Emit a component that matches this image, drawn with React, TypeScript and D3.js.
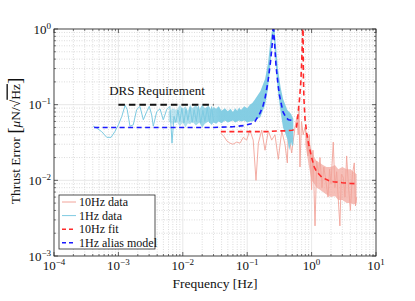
import * as d3 from 'd3';

// axis ticks
const xExps = [-4, -3, -2, -1, 0, 1];
const yExps = [-3, -2, -1, 0];

// 1Hz data: low-frequency trace
const oneHzF = [4.07e-4, 4.6e-4, 5.5e-4, 6.6e-4, 7.7e-4, 8.8e-4, 1.0e-3, 1.13e-3, 1.27e-3, 1.37e-3, 1.51e-3, 1.7e-3, 1.92e-3, 2.16e-3, 2.44e-3, 2.75e-3, 3.02e-3, 3.29e-3, 3.48e-3, 3.94e-3, 4.43e-3, 4.98e-3, 5.62e-3, 6.3e-3, 6.8e-3, 7.3e-3, 7.8e-3, 8.4e-3, 9.0e-3, 9.7e-3, 1.04e-2, 1.12e-2, 1.2e-2, 1.3e-2, 1.4e-2, 1.5e-2, 1.62e-2, 1.75e-2, 1.9e-2, 2.05e-2, 2.2e-2, 2.4e-2, 2.6e-2, 2.8e-2, 3.0e-2];
const oneHzV = [0.052, 0.049, 0.044, 0.037, 0.037, 0.044, 0.054, 0.07, 0.098, 0.086, 0.052, 0.054, 0.086, 0.095, 0.063, 0.081, 0.095, 0.073, 0.052, 0.081, 0.088, 0.063, 0.086, 0.095, 0.031, 0.07, 0.058, 0.085, 0.06, 0.09, 0.057, 0.088, 0.062, 0.092, 0.058, 0.086, 0.06, 0.095, 0.057, 0.084, 0.06, 0.09, 0.058, 0.094, 0.06];

// 1Hz data: dense band envelope
const oneHzBandF = [0.006, 0.007, 0.008, 0.009, 0.01, 0.011, 0.012, 0.013, 0.014, 0.016, 0.018, 0.02, 0.022, 0.025, 0.028, 0.03, 0.033, 0.036, 0.04, 0.045, 0.05, 0.055, 0.06, 0.065, 0.07, 0.075, 0.08, 0.09, 0.1, 0.11, 0.12, 0.13, 0.16, 0.19, 0.21, 0.23, 0.245, 0.255, 0.265, 0.28, 0.3, 0.33, 0.36, 0.39, 0.42, 0.45, 0.48, 0.5, 0.52];
const oneHzBandLo = [0.06, 0.055, 0.06, 0.052, 0.058, 0.05, 0.057, 0.055, 0.06, 0.053, 0.058, 0.05, 0.056, 0.06, 0.054, 0.058, 0.056, 0.06, 0.057, 0.062, 0.058, 0.06, 0.062, 0.058, 0.06, 0.062, 0.06, 0.062, 0.058, 0.06, 0.06, 0.062, 0.068, 0.1, 0.16, 0.35, 0.7, 0.9, 0.6, 0.3, 0.15, 0.08, 0.05, 0.042, 0.035, 0.025, 0.032, 0.028, 0.03];
const oneHzBandHi = [0.08, 0.09, 0.085, 0.1, 0.088, 0.095, 0.083, 0.1, 0.09, 0.098, 0.086, 0.1, 0.09, 0.097, 0.085, 0.093, 0.088, 0.095, 0.083, 0.09, 0.082, 0.088, 0.08, 0.09, 0.083, 0.092, 0.085, 0.095, 0.09, 0.1, 0.105, 0.115, 0.15, 0.22, 0.35, 0.7, 1.0, 1.0, 1.0, 0.6, 0.3, 0.17, 0.12, 0.1, 0.085, 0.08, 0.075, 0.07, 0.065];

// 10Hz data
const tenHzF = [0.039, 0.0436, 0.0486, 0.054, 0.06, 0.0687, 0.0773, 0.087, 0.098, 0.11, 0.124, 0.137, 0.149, 0.168, 0.189, 0.213, 0.24, 0.27, 0.304, 0.344, 0.386, 0.42, 0.435, 0.49, 0.552, 0.593, 0.62, 0.637, 0.66, 0.697, 0.74, 0.79, 0.85, 0.88, 0.92, 0.97, 1.0, 1.05, 1.13, 1.2, 1.28, 1.35, 1.45, 1.55, 1.66, 1.8, 1.9, 2.0, 2.17, 2.3, 2.45, 2.6, 2.75, 2.9, 3.1, 3.3, 3.5, 3.75, 4.0, 4.3, 4.6, 4.8, 5.0];
const tenHzV = [0.042, 0.038, 0.033, 0.031, 0.030, 0.032, 0.031, 0.037, 0.034, 0.046, 0.034, 0.010, 0.031, 0.046, 0.025, 0.045, 0.034, 0.04, 0.019, 0.045, 0.03, 0.017, 0.045, 0.023, 0.05, 0.07, 0.04, 0.09, 0.015, 0.06, 0.04, 0.05, 0.035, 0.021, 0.04, 0.015, 0.0075, 0.025, 0.0025, 0.018, 0.012, 0.02, 0.008, 0.015, 0.01, 0.006, 0.014, 0.009, 0.032, 0.008, 0.013, 0.0055, 0.0025, 0.012, 0.011, 0.006, 0.021, 0.008, 0.004, 0.012, 0.017, 0.0046, 0.006];

// 10Hz data: dense band envelope above 0.8 Hz
const tenHzBandF = [0.8, 0.9, 1.0, 1.1, 1.2, 1.35, 1.5, 1.7, 2.0, 2.3, 2.6, 3.0, 3.5, 4.0, 4.5, 5.0];
const tenHzBandLo = [0.03, 0.016, 0.01, 0.009, 0.008, 0.0075, 0.007, 0.0065, 0.006, 0.0062, 0.0055, 0.0055, 0.005, 0.005, 0.0048, 0.005];
const tenHzBandHi = [0.05, 0.035, 0.025, 0.02, 0.018, 0.017, 0.016, 0.015, 0.015, 0.016, 0.014, 0.015, 0.014, 0.014, 0.013, 0.012];

// 10Hz fit
const fitF = [0.039, 0.1, 0.2, 0.3, 0.4, 0.5, 0.55, 0.58, 0.6, 0.62, 0.65, 0.68, 0.7, 0.72, 0.735, 0.745, 0.76, 0.79, 0.84, 0.9, 1.0, 1.1, 1.2, 1.44, 1.8, 2.17, 3.0, 4.0, 5.0];
const fitV = [0.044, 0.044, 0.044, 0.045, 0.045, 0.046, 0.047, 0.05, 0.06, 0.08, 0.12, 0.2, 0.35, 0.7, 1.5, 0.25, 0.12, 0.065, 0.042, 0.03, 0.02, 0.015, 0.013, 0.011, 0.01, 0.0096, 0.0093, 0.0091, 0.009];

// 1Hz alias model
const modelF = [4.2e-4, 1e-3, 1e-2, 0.03, 0.06, 0.09, 0.115, 0.132, 0.158, 0.175, 0.189, 0.21, 0.23, 0.247, 0.254, 0.262, 0.28, 0.3, 0.316, 0.34, 0.36, 0.4, 0.436, 0.51];
const modelV = [0.05, 0.05, 0.05, 0.05, 0.051, 0.053, 0.056, 0.06, 0.077, 0.095, 0.121, 0.2, 0.37, 0.68, 1.3, 0.8, 0.33, 0.19, 0.135, 0.1, 0.08, 0.068, 0.063, 0.062];

// DRS requirement
const drsF = [1e-3, 0.03];
const drsV = [0.1, 0.1];

const C10 = '#f2a49a';
const C1 = '#7ecbe2';

const legendItems = [
  { label: '10Hz data', color: C10, dash: '', width: 1 },
  { label: '1Hz data', color: C1, dash: '', width: 1 },
  { label: '10Hz fit', color: '#ff2a2a', dash: '4,3', width: 1.5 },
  { label: '1Hz alias model', color: '#1a1aff', dash: '4,3', width: 1.5 },
];

const FONT = 'Liberation Serif, DejaVu Serif, serif';

export default function App() {
  const left = 54, right = 376, top = 29, bottom = 256;
  const x = d3.scaleLog().domain([1e-4, 10]).range([left, right]);
  const y = d3.scaleLog().domain([1e-3, 1]).range([bottom, top]);

  const zip = (fs: number[], vs: number[]) => fs.map((f, i) => [f, vs[i]] as [number, number]);
  const line = d3.line<[number, number]>().x(d => x(d[0])).y(d => y(d[1]));
  const band = (fs: number[], lo: number[], hi: number[]) =>
    d3.area<number>().x((_, i) => x(fs[i])).y0((_, i) => y(lo[i])).y1((_, i) => y(hi[i]))(fs) || '';

  const minorX: number[] = [];
  xExps.slice(0, -1).forEach(e => { for (let m = 2; m <= 9; m++) minorX.push(m * Math.pow(10, e)); });
  const minorY: number[] = [];
  yExps.slice(0, -1).forEach(e => { for (let m = 2; m <= 9; m++) minorY.push(m * Math.pow(10, e)); });

  const sup = (e: number) => (e < 0 ? '\u2212' + Math.abs(e) : String(e));

  return (
    <div style={{ position: 'absolute', left: 0, top: 0 }}>
      <svg width={415} height={301} style={{ display: 'block', background: '#fff', fontFamily: FONT }}>
        <defs>
          <clipPath id="plot"><rect x={left} y={top} width={right - left} height={bottom - top} /></clipPath>
          <linearGradient id="fade1" gradientUnits="userSpaceOnUse" x1={x(0.006)} x2={x(0.04)} y1={0} y2={0}>
            <stop offset="0" stopColor={C1} stopOpacity={0.45} />
            <stop offset="1" stopColor={C1} stopOpacity={0.95} />
          </linearGradient>
        </defs>
        {/* grid */}
        {minorX.map((v, i) => <line key={'mx' + i} x1={x(v)} x2={x(v)} y1={top} y2={bottom} stroke="#c4c4c4" strokeWidth={0.6} strokeDasharray="1,1.5" />)}
        {minorY.map((v, i) => <line key={'my' + i} y1={y(v)} y2={y(v)} x1={left} x2={right} stroke="#c4c4c4" strokeWidth={0.6} strokeDasharray="1,1.5" />)}
        {xExps.map(e => <line key={'gx' + e} x1={x(Math.pow(10, e))} x2={x(Math.pow(10, e))} y1={top} y2={bottom} stroke="#e2e2e2" strokeWidth={0.8} />)}
        {yExps.map(e => <line key={'gy' + e} y1={y(Math.pow(10, e))} y2={y(Math.pow(10, e))} x1={left} x2={right} stroke="#e2e2e2" strokeWidth={0.8} />)}

        <g clipPath="url(#plot)" fill="none">
          {/* 10Hz data */}
          <path d={band(tenHzBandF, tenHzBandLo, tenHzBandHi)} fill={C10} fillOpacity={0.7} stroke="none" />
          <path d={line(zip(tenHzF, tenHzV)) || ''} stroke={C10} strokeWidth={0.9} strokeLinejoin="round" />
          {/* 1Hz data */}
          <path d={band(oneHzBandF, oneHzBandLo, oneHzBandHi)} fill="url(#fade1)" stroke="none" />
          <path d={line(zip(oneHzF, oneHzV)) || ''} stroke={C1} strokeWidth={1} strokeLinejoin="round" />
          {/* fits */}
          <path d={line(zip(fitF, fitV)) || ''} stroke="#ff2a2a" strokeWidth={1.6} strokeDasharray="5,3.5" />
          <path d={line(zip(modelF, modelV)) || ''} stroke="#1a1aff" strokeWidth={1.6} strokeDasharray="5,3.5" />
          <path d={line(zip(drsF, drsV)) || ''} stroke="#111" strokeWidth={2} strokeDasharray="6.5,4" />
        </g>

        {/* axes box and ticks */}
        <rect x={left} y={top} width={right - left} height={bottom - top} fill="none" stroke="#262626" strokeWidth={0.8} />
        {xExps.map(e => {
          const px = x(Math.pow(10, e));
          return <g key={'tx' + e}>
            <line x1={px} x2={px} y1={bottom} y2={bottom - 4} stroke="#262626" strokeWidth={0.7} />
            <line x1={px} x2={px} y1={top} y2={top + 4} stroke="#262626" strokeWidth={0.7} />
          </g>;
        })}
        {minorX.map((v, i) => <g key={'tmx' + i}>
          <line x1={x(v)} x2={x(v)} y1={bottom} y2={bottom - 2} stroke="#262626" strokeWidth={0.6} />
          <line x1={x(v)} x2={x(v)} y1={top} y2={top + 2} stroke="#262626" strokeWidth={0.6} />
        </g>)}
        {yExps.map(e => {
          const py = y(Math.pow(10, e));
          return <g key={'ty' + e}>
            <line x1={left} x2={left + 4} y1={py} y2={py} stroke="#262626" strokeWidth={0.7} />
            <line x1={right} x2={right - 4} y1={py} y2={py} stroke="#262626" strokeWidth={0.7} />
          </g>;
        })}
        {minorY.map((v, i) => <g key={'tmy' + i}>
          <line x1={left} x2={left + 2} y1={y(v)} y2={y(v)} stroke="#262626" strokeWidth={0.6} />
          <line x1={right} x2={right - 2} y1={y(v)} y2={y(v)} stroke="#262626" strokeWidth={0.6} />
        </g>)}

        {/* tick labels */}
        <g fill="#111">
          {xExps.map(e => (
            <text key={'lx' + e} x={x(Math.pow(10, e))} y={270} textAnchor="middle" fontSize={13}>
              10<tspan fontSize={9} dy={-5}>{sup(e)}</tspan>
            </text>
          ))}
          {yExps.map(e => (
            <text key={'ly' + e} x={51} y={y(Math.pow(10, e)) + 4.5} textAnchor="end" fontSize={13}>
              10<tspan fontSize={9} dy={-5}>{sup(e)}</tspan>
            </text>
          ))}
          <text x={215} y={288} textAnchor="middle" fontSize={13.5}>Frequency [Hz]</text>
          <text transform="translate(19.5,141) rotate(-90)" textAnchor="middle" fontSize={13.5}>
            Thrust Error <tspan fontSize={19} dy={1}>[</tspan><tspan dy={-1} fontStyle="italic">{'\u03bc'}</tspan>N/{'\u221a'}<tspan textDecoration="overline">Hz</tspan><tspan fontSize={19} dy={1}>]</tspan>
          </text>
          <text x={157} y={95} textAnchor="middle" fontSize={13}>DRS Requirement</text>
        </g>

        {/* legend */}
        <rect x={59} y={195} width={96} height={54} fill="#fff" stroke="#262626" strokeWidth={0.8} />
        {legendItems.map((it, i) => {
          const cy = 202 + i * 13.6;
          return <g key={it.label}>
            <line x1={62} x2={76} y1={cy} y2={cy} stroke={it.color} strokeWidth={it.width} strokeDasharray={it.dash} />
            <text x={79} y={cy + 4} fontSize={12} fill="#111">{it.label}</text>
          </g>;
        })}
      </svg>
    </div>
  );
}
